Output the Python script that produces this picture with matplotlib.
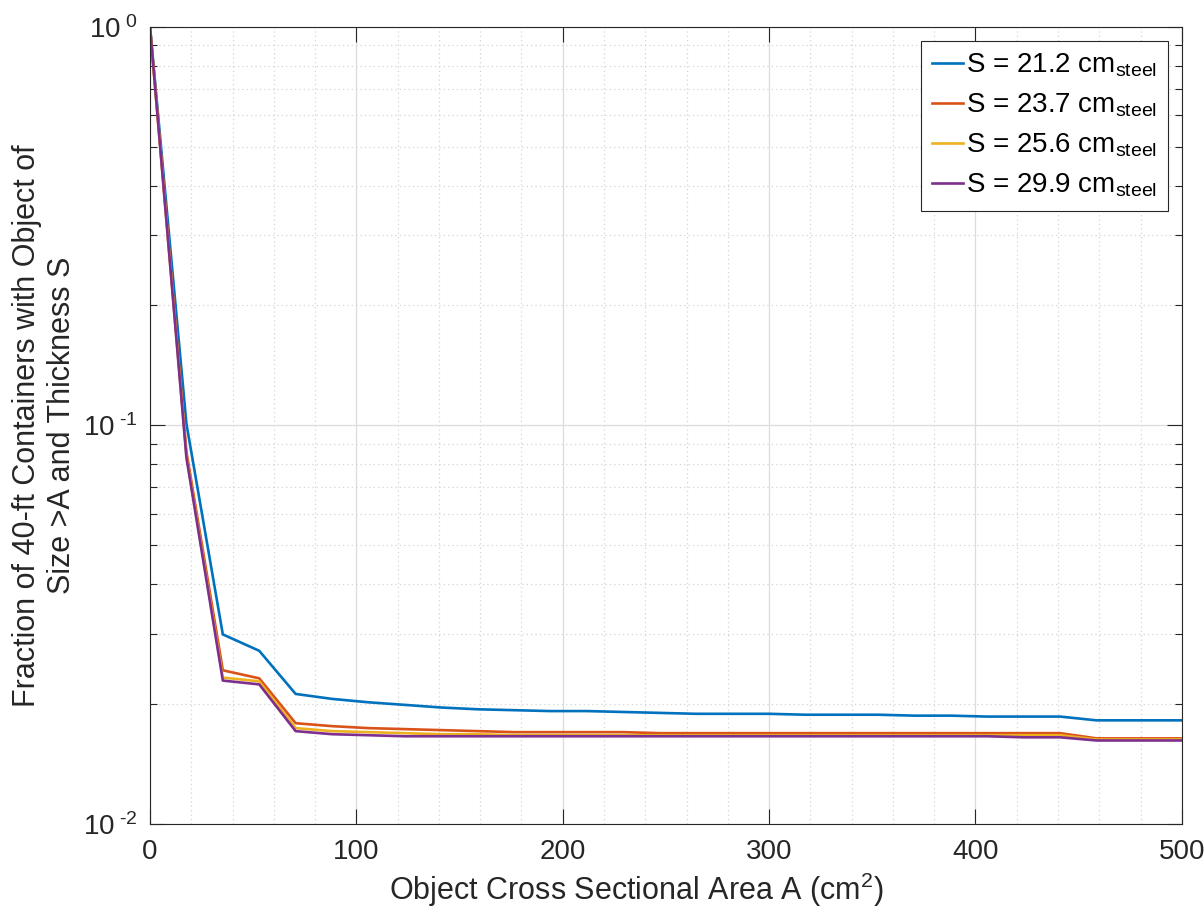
import numpy as np
import matplotlib
matplotlib.use("Agg")
import matplotlib.pyplot as plt
from matplotlib.ticker import MultipleLocator, LogLocator, NullFormatter

plt.rcParams['font.family'] = ['Liberation Sans', 'DejaVu Sans']
plt.rcParams['mathtext.fontset'] = 'custom'
plt.rcParams['mathtext.rm'] = 'Liberation Sans'
plt.rcParams['mathtext.it'] = 'Liberation Sans'
plt.rcParams['mathtext.bf'] = 'Liberation Sans'

# Object cross sectional area (cm^2): 4.2 cm x 4.2 cm pixel steps
area = [0.0, 17.64, 35.28, 52.92, 70.56, 88.2, 105.84, 123.48, 141.12, 158.76,
        176.4, 194.04, 211.68, 229.32, 246.96, 264.6, 282.24, 299.88, 317.52, 335.16,
        352.8, 370.44, 388.08, 405.72, 423.36, 441.0, 458.64, 476.28, 493.92, 511.56]

s212 = [1.0, 0.101, 0.0299, 0.0272, 0.0212, 0.0206, 0.0202, 0.0199, 0.0196, 0.0194,
        0.0193, 0.0192, 0.0192, 0.0191, 0.0190, 0.0189, 0.0189, 0.0189, 0.0188, 0.0188,
        0.0188, 0.0187, 0.0187, 0.0186, 0.0186, 0.0186, 0.0182, 0.0182, 0.0182, 0.0182]
s237 = [1.0, 0.086, 0.0243, 0.0232, 0.0179, 0.0176, 0.0174, 0.0173, 0.0172, 0.0171,
        0.0170, 0.0170, 0.0170, 0.0170, 0.0169, 0.0169, 0.0169, 0.0169, 0.0169, 0.0169,
        0.0169, 0.0169, 0.0169, 0.0169, 0.0169, 0.0169, 0.0164, 0.0164, 0.0164, 0.0164]
s256 = [1.0, 0.084, 0.0233, 0.0228, 0.0174, 0.0171, 0.0170, 0.0169, 0.0168, 0.0168,
        0.0167, 0.0167, 0.0167, 0.0167, 0.0167, 0.0167, 0.0167, 0.0167, 0.0167, 0.0167,
        0.0167, 0.0167, 0.0167, 0.0167, 0.0167, 0.0167, 0.0163, 0.0163, 0.0163, 0.0163]
s299 = [1.0, 0.083, 0.0229, 0.0224, 0.0171, 0.0168, 0.0167, 0.0166, 0.0166, 0.0166,
        0.0166, 0.0166, 0.0166, 0.0166, 0.0166, 0.0166, 0.0166, 0.0166, 0.0166, 0.0166,
        0.0166, 0.0166, 0.0166, 0.0166, 0.0165, 0.0165, 0.0162, 0.0162, 0.0162, 0.0162]

labels = ["S = 21.2 cm$_{\\mathrm{steel}}$", "S = 23.7 cm$_{\\mathrm{steel}}$",
          "S = 25.6 cm$_{\\mathrm{steel}}$", "S = 29.9 cm$_{\\mathrm{steel}}$"]
colors = ["#0072BD", "#D95319", "#EDB120", "#7E2F8E"]
xticks = [0, 100, 200, 300, 400, 500]
yticks = [1e-2, 1e-1, 1e0]
yticklabels = ["10$^{\\text{ -2}}$", "10$^{\\text{ -1}}$", "10$^{\\text{ 0}}$"]

fig = plt.figure(figsize=(12.04, 9.13), dpi=100)
ax = fig.add_axes([0.1246, 0.0975, 0.857, 0.873])

for ys, c, lab in zip([s212, s237, s256, s299], colors, labels):
    ax.plot(area, ys, color=c, lw=1.9, label=lab)

ax.set_yscale('log')
ax.set_xlim(0, 500)
ax.set_ylim(1e-2, 1)
ax.set_xticks(xticks)
ax.set_xticklabels([str(v) for v in xticks])
ax.xaxis.set_minor_locator(MultipleLocator(20))
ax.set_yticks(yticks)
ax.set_yticklabels(yticklabels)
ax.yaxis.set_minor_locator(LogLocator(base=10, subs=np.arange(2, 10)))
ax.yaxis.set_minor_formatter(NullFormatter())

ax.grid(True, which='major', color='#dcdcdc', lw=0.9, ls='-')
ax.grid(True, which='minor', color='#d4d4d4', lw=0.9, ls=(0, (1, 2.5)))
ax.set_axisbelow(True)

ax.tick_params(which='both', direction='in', top=True, right=True,
               colors='#262626', labelsize=20, width=0.8)
ax.tick_params(which='major', length=11)
ax.tick_params(axis='x', which='major', pad=11)
ax.tick_params(axis='y', which='major', pad=9)
ax.tick_params(axis='y', which='minor', length=5)
ax.tick_params(axis='x', which='minor', length=0)
for sp in ax.spines.values():
    sp.set_color('#262626')
    sp.set_linewidth(0.8)

ax.set_xlabel("Object Cross Sectional Area A (cm$^{2}$)", fontsize=22, color='#262626')
ax.xaxis.set_label_coords(0.471, -0.059)
ax.set_ylabel("Fraction of 40-ft Containers with Object of\nSize >A and Thickness S",
              fontsize=22, color='#262626')
ax.yaxis.set_label_coords(-0.071, 0.5)

leg = ax.legend(loc='upper right', fontsize=20, frameon=True, fancybox=False,
                edgecolor='#262626', framealpha=1, handlelength=1.1, handletextpad=0.12,
                borderaxespad=0.5, labelspacing=0.45, borderpad=0.4)
leg.get_frame().set_linewidth(0.8)

fig.savefig("out.png", dpi=100)
